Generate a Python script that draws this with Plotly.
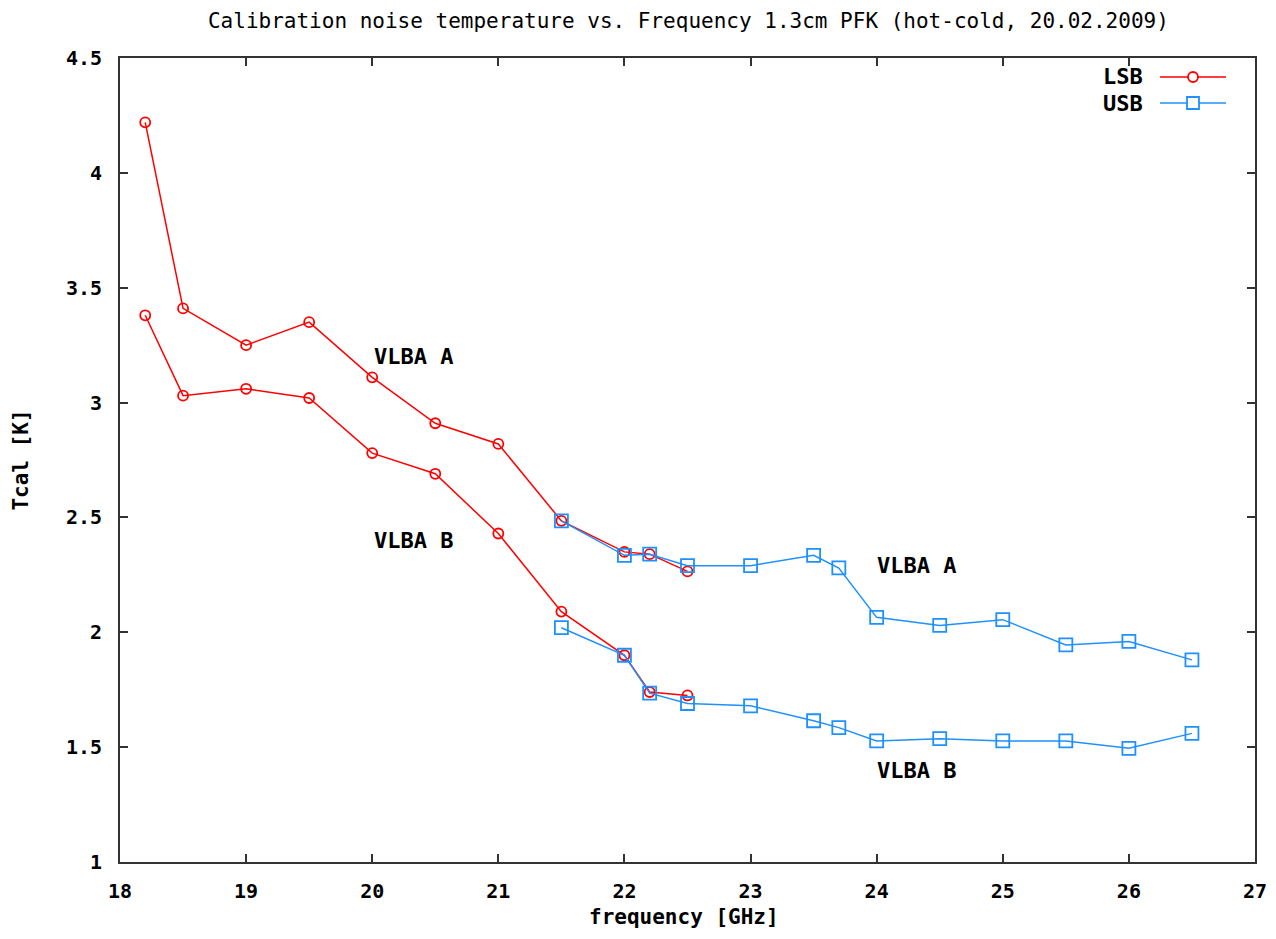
import plotly.graph_objects as go

freq_lsb = [18.2, 18.5, 19.0, 19.5, 20.0, 20.5, 21.0, 21.5, 22.0, 22.2, 22.5]
lsb_a = [4.22, 3.41, 3.25, 3.35, 3.11, 2.91, 2.82, 2.485, 2.35, 2.34, 2.265]
lsb_b = [3.38, 3.03, 3.06, 3.02, 2.78, 2.69, 2.43, 2.09, 1.90, 1.74, 1.725]

freq_usb = [21.5, 22.0, 22.2, 22.5, 23.0, 23.5, 23.7, 24.0, 24.5, 25.0, 25.5, 26.0, 26.5]
usb_a = [2.485, 2.335, 2.34, 2.29, 2.29, 2.335, 2.28, 2.065, 2.03, 2.055, 1.945, 1.96, 1.88]
usb_b = [2.02, 1.90, 1.735, 1.69, 1.68, 1.615, 1.585, 1.527, 1.537, 1.527, 1.527, 1.495, 1.56]

labels = [("VLBA A", 20.0, 3.20), ("VLBA B", 20.0, 2.40), ("VLBA A", 23.99, 2.29), ("VLBA B", 23.99, 1.40)]

RED = "#ff0000"
BLUE = "#1e90ff"
MONO = "DejaVu Sans Mono"

fig = go.Figure()
for ys in (lsb_a, lsb_b):
    fig.add_trace(go.Scatter(x=freq_lsb, y=ys, mode="lines+markers", name="LSB", showlegend=False,
                             line=dict(color=RED, width=1.5),
                             marker=dict(symbol="circle-open", size=10, color=RED, line=dict(width=1.8, color=RED))))
for ys in (usb_a, usb_b):
    fig.add_trace(go.Scatter(x=freq_usb, y=ys, mode="lines+markers", name="USB", showlegend=False,
                             line=dict(color=BLUE, width=1.5),
                             marker=dict(symbol="square-open", size=13, color=BLUE, line=dict(width=1.8, color=BLUE))))

for txt, x, y in labels:
    fig.add_annotation(x=x, y=y, text=txt, showarrow=False, xanchor="left", yanchor="middle",
                       font=dict(family=MONO, size=22, color="black", weight="bold"))

# custom legend (text left of sample, gnuplot style)
L, R, T, B = 120, 1255, 58, 862
def px(x):
    return (x - L) / (R - L)
def py(y):
    return (B - y) / (B - T)

for name, color, sym, ypix in (("LSB", RED, "circle", 77), ("USB", BLUE, "rect", 103)):
    fig.add_annotation(xref="paper", yref="paper", x=px(1145), y=py(ypix), text=name, showarrow=False,
                       xanchor="right", yanchor="middle",
                       font=dict(family=MONO, size=22, color="black", weight="bold"))
    fig.add_shape(type="line", xref="paper", yref="paper", x0=px(1160), x1=px(1226), y0=py(ypix), y1=py(ypix),
                  line=dict(color=color, width=1.5))
    h = 5 if sym == "circle" else 6
    fig.add_shape(type=sym, xref="paper", yref="paper", x0=px(1193 - h), x1=px(1193 + h),
                  y0=py(ypix + h), y1=py(ypix - h), line=dict(color=color, width=1.8), fillcolor="white")

# x-axis title as annotation for exact placement
fig.add_annotation(xref="paper", yref="paper", x=px(684), y=py(917), text="frequency [GHz]", showarrow=False,
                   xanchor="center", yanchor="middle",
                   font=dict(family=MONO, size=21, color="black", weight="bold"))

axis_common = dict(showgrid=False, zeroline=False, showline=True, linecolor="#333333", linewidth=2,
                   mirror="allticks", ticks="inside", ticklen=8, tickcolor="#333333", tickwidth=1.5,
                   tickfont=dict(family=MONO, size=20, color="black", weight="bold"))

fig.update_xaxes(range=[18, 27], dtick=1, tick0=18, ticklabelstandoff=10, **axis_common)
fig.update_yaxes(range=[1, 4.5], dtick=0.5, tick0=1, ticklabelstandoff=12,
                 title=dict(text="Tcal [K]", standoff=32,
                            font=dict(family=MONO, size=21, color="black", weight="bold")),
                 **axis_common)

fig.update_layout(
    width=1260, height=923,
    margin=dict(l=112, r=13, t=50, b=69, autoexpand=False),
    paper_bgcolor="white", plot_bgcolor="white",
    showlegend=False,
    title=dict(text="Calibration noise temperature vs. Frequency 1.3cm PFK (hot-cold, 20.02.2009)",
               x=0.54, xanchor="center", y=0.986, yanchor="middle",
               font=dict(family=MONO, size=21, color="black")),
)

fig.write_html("out.html")
